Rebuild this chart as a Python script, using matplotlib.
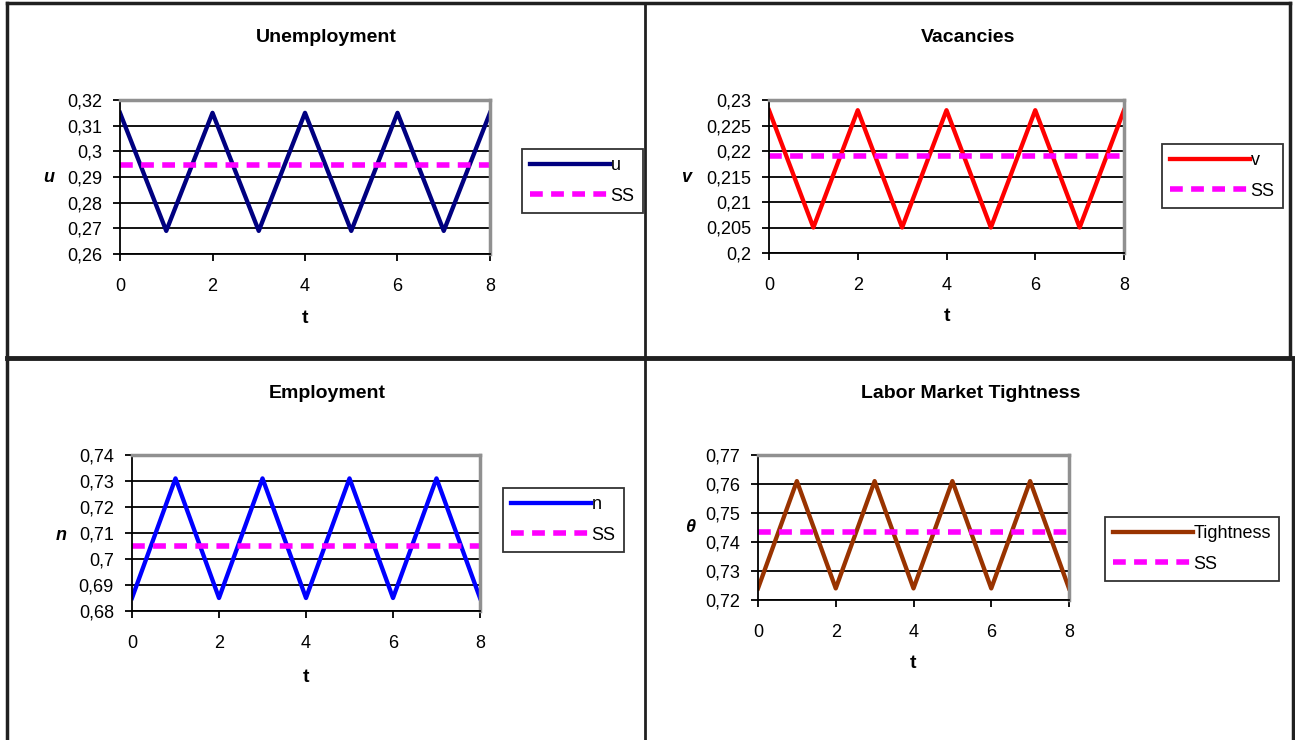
import matplotlib.pyplot as plt
from matplotlib.lines import Line2D
from matplotlib.ticker import FuncFormatter, MultipleLocator

plt.rcParams['font.family'] = ['Liberation Sans', 'DejaVu Sans']

W, H = 1295, 740

t = [0, 1, 2, 3, 4, 5, 6, 7, 8]
u = [0.315, 0.269, 0.315, 0.269, 0.315, 0.269, 0.315, 0.269, 0.315]
u_ss = [0.2945] * 9
v = [0.228, 0.205, 0.228, 0.205, 0.228, 0.205, 0.228, 0.205, 0.228]
v_ss = [0.219] * 9
n = [0.685, 0.731, 0.685, 0.731, 0.685, 0.731, 0.685, 0.731, 0.685]
n_ss = [0.705] * 9
theta = [0.724, 0.761, 0.724, 0.761, 0.724, 0.761, 0.724, 0.761, 0.724]
theta_ss = [0.7435] * 9


def px_box(x0, y0, x1, y1):
    return [x0 / W, 1 - y1 / H, (x1 - x0) / W, (y1 - y0) / H]


def comma_fmt(val, pos):
    return ('%g' % round(val, 4)).replace('.', ',')


def panel(fig, box, x, y, ss, color, name, title, ylab, ylim, ystep,
          title_xy, ylab_xy, leg_xy, t_y):
    ax = fig.add_axes(px_box(*box))
    ax.plot(x, y, color=color, lw=3.1, label=name)
    ax.plot(x, ss, color='#ff00ff', lw=4, dashes=(2.3, 1.5), label='SS')
    ax.set_xlim(0, 8)
    ax.set_ylim(*ylim)
    ax.yaxis.set_major_locator(MultipleLocator(ystep))
    ax.xaxis.set_major_locator(MultipleLocator(2))
    ax.yaxis.set_major_formatter(FuncFormatter(comma_fmt))
    ax.grid(axis='y', color='black', lw=1.3)
    ax.set_axisbelow(True)
    for s in ['top', 'right']:
        ax.spines[s].set_color('#909090')
        ax.spines[s].set_linewidth(2.5)
    for s in ['left', 'bottom']:
        ax.spines[s].set_color('black')
        ax.spines[s].set_linewidth(1.3)
    ax.tick_params(direction='out', length=5, width=1.3, labelsize=13)
    ax.tick_params(axis='y', pad=8)
    ax.tick_params(axis='x', pad=12)
    fig.text(title_xy[0] / W, 1 - title_xy[1] / H, title, ha='center', va='center',
             fontsize=14, fontweight='bold')
    fig.text(ylab_xy[0] / W, 1 - ylab_xy[1] / H, ylab, ha='center', va='center',
             fontsize=13, fontweight='bold', style='italic')
    fig.text((box[0] + box[2]) / 2 / W, 1 - t_y / H, 't', ha='center', va='center',
             fontsize=14, fontweight='bold')
    leg = fig.legend(handles=ax.get_lines(), loc='upper left',
                     bbox_to_anchor=(leg_xy[0] / W, 1 - leg_xy[1] / H),
                     fontsize=13, handlelength=4.4, handletextpad=0.05,
                     borderpad=0.45, labelspacing=0.75, fancybox=False,
                     borderaxespad=0)
    leg.get_frame().set_edgecolor('black')
    leg.get_frame().set_linewidth(1.3)
    return ax


fig = plt.figure(figsize=(W / 100, H / 100), dpi=100)

panel(fig, (120, 100, 490, 254), t, u, u_ss, '#000080', 'u', 'Unemployment', 'u',
      (0.26, 0.32), 0.01, (326, 37), (49, 177), (522, 149), 318)
panel(fig, (769, 100, 1124, 253), t, v, v_ss, '#ff0000', 'v', 'Vacancies', 'v',
      (0.2, 0.23), 0.005, (968, 37), (686, 177), (1162, 144), 317)
panel(fig, (132, 455, 480, 611), t, n, n_ss, '#0000ff', 'n', 'Employment', 'n',
      (0.68, 0.74), 0.01, (327, 393), (61, 535), (503, 488), 677)
panel(fig, (758, 455, 1069, 600), t, theta, theta_ss, '#993300', 'Tightness',
      'Labor Market Tightness', '\u03b8', (0.72, 0.77), 0.01, (971, 393),
      (690, 527), (1105, 517), 663)

# page border and dividers
lines = [
    ((7, 1290), (3, 3), 2.5),
    ((7, 7), (3, 740), 2.5),
    ((1290, 1290), (3, 358), 2.5),
    ((1293, 1293), (358, 740), 2.5),
    ((645, 645), (3, 740), 2),
    ((7, 1295), (358, 358), 3.5),
]
for xs, ys, lw in lines:
    fig.add_artist(Line2D([xx / W for xx in xs], [1 - yy / H for yy in ys],
                          color='#202020', lw=lw))

fig.savefig('out.png', dpi=100)
